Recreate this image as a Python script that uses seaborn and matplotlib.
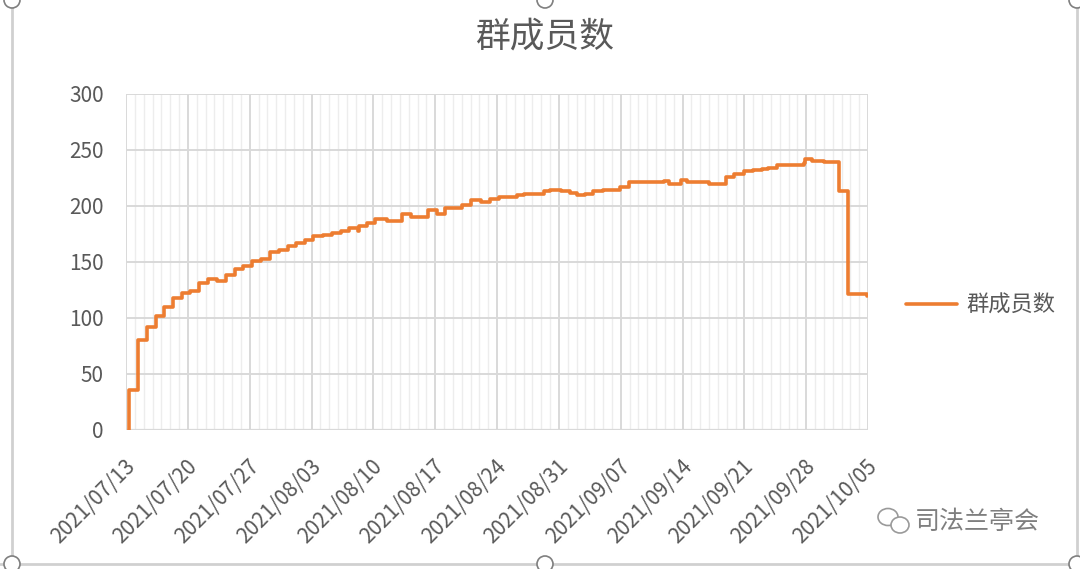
import pandas as pd
import matplotlib.pyplot as plt
import matplotlib.dates as mdates
import matplotlib.transforms as mtransforms
from matplotlib.patches import Ellipse
from matplotlib.lines import Line2D
import seaborn as sns

# ── data (time of change, member count) ──
times = [
    "2021-07-13 08:00", "2021-07-13 09:00", "2021-07-14 09:00", "2021-07-15 08:00",
    "2021-07-16 09:00", "2021-07-17 08:00", "2021-07-18 09:00", "2021-07-19 07:00",
    "2021-07-20 07:00", "2021-07-21 07:00", "2021-07-22 07:00", "2021-07-23 07:00",
    "2021-07-24 07:00", "2021-07-25 07:00", "2021-07-26 07:00", "2021-07-27 07:00",
    "2021-07-28 07:00", "2021-07-29 07:00", "2021-07-30 07:00", "2021-07-31 07:00",
    "2021-08-01 07:00", "2021-08-02 07:00", "2021-08-03 05:00", "2021-08-04 07:00",
    "2021-08-05 07:00", "2021-08-06 07:00", "2021-08-07 07:00", "2021-08-08 05:00",
    "2021-08-08 10:00", "2021-08-09 07:00", "2021-08-10 05:00", "2021-08-11 12:00",
    "2021-08-13 05:00", "2021-08-14 05:00", "2021-08-16 05:00", "2021-08-17 05:00",
    "2021-08-18 02:00", "2021-08-20 00:00", "2021-08-21 00:00", "2021-08-22 05:00",
    "2021-08-23 05:00", "2021-08-24 05:00", "2021-08-26 05:00", "2021-08-27 00:00",
    "2021-08-29 07:00", "2021-08-30 00:00", "2021-08-31 05:00", "2021-09-01 05:00",
    "2021-09-02 00:00", "2021-09-03 00:00", "2021-09-03 22:00", "2021-09-05 00:00",
    "2021-09-06 22:00", "2021-09-07 22:00", "2021-09-11 22:00", "2021-09-12 12:00",
    "2021-09-13 19:00", "2021-09-14 12:00", "2021-09-17 00:00", "2021-09-18 22:00",
    "2021-09-19 19:00", "2021-09-20 22:00", "2021-09-22 00:00", "2021-09-23 00:00",
    "2021-09-23 17:00", "2021-09-24 17:00", "2021-09-27 17:00", "2021-09-27 22:00",
    "2021-09-28 17:00", "2021-09-30 00:00", "2021-10-01 17:00", "2021-10-02 17:00",
    "2021-10-04 22:00",
]
members = [
    0, 36, 80, 92,
    102, 110, 118, 122,
    124, 131, 135, 133,
    138, 144, 146, 151,
    153, 159, 161, 164,
    167, 170, 173, 174,
    176, 178, 180, 178,
    182, 185, 188, 187,
    193, 190, 196, 193,
    198, 201, 205, 204,
    206, 208, 210, 211,
    213, 214, 213, 212,
    210, 211, 213, 214,
    217, 221, 222, 220,
    223, 221, 220, 226,
    229, 231, 232, 233,
    234, 237, 238, 242,
    240, 239, 213, 121,
    120,
]
tick_dates = pd.date_range("2021-07-13", "2021-10-05", freq="7D")
series_name = "群成员数"
title = "群成员数"
watermark = "司法兰亭会"

df = pd.DataFrame({"time": pd.to_datetime(times), "members": members})

sns.set_theme(style="white")
plt.rcParams["font.family"] = ["Noto Sans CJK SC", "DejaVu Sans"]

grey_txt = "#595959"
orange = "#ED7D31"

fig = plt.figure(figsize=(10.8, 5.69), dpi=100)
ax = fig.add_axes([126 / 1080, 1 - 430 / 569, (868 - 126) / 1080, (430 - 94) / 569])

sns.lineplot(data=df, x="time", y="members", ax=ax, color=orange, linewidth=2.6,
             drawstyle="steps-post", label=series_name, legend=False)

ax.set_xlim(pd.Timestamp("2021-07-13"), pd.Timestamp("2021-10-05"))
ax.set_ylim(0, 300)
ax.set_yticks(range(0, 301, 50))

ax.set_xticks(mdates.date2num(tick_dates))
ax.set_xticklabels([d.strftime("%Y/%m/%d") for d in tick_dates])
ax.xaxis.set_minor_locator(mdates.DayLocator())

ax.grid(True, which="major", axis="both", color="#d9d9d9", linewidth=1.4)
ax.grid(True, which="minor", axis="x", color="#ededed", linewidth=1.0)
ax.set_axisbelow(True)
for s in ax.spines.values():
    s.set_visible(False)
ax.axhline(0, color="#d9d9d9", linewidth=1.6, zorder=1)

ax.set_xlabel("")
ax.set_ylabel("")
ax.tick_params(axis="y", length=0, pad=16, labelsize=15, labelcolor=grey_txt)
ax.tick_params(axis="x", which="both", length=0, pad=24, labelsize=15, labelcolor=grey_txt)
shift = mtransforms.ScaledTranslation(6 / 100, 0, fig.dpi_scale_trans)
for lab in ax.get_xticklabels():
    lab.set_rotation(45)
    lab.set_ha("right")
    lab.set_va("center")
    lab.set_rotation_mode("anchor")
    lab.set_transform(lab.get_transform() + shift)

# title
fig.text(545 / 1080, 1 - 37 / 569, title, ha="center", va="center",
         fontsize=25, color=grey_txt)

# legend
handle = Line2D([], [], color=orange, linewidth=2.6)
fig.legend([handle], [series_name], loc="center left",
           bbox_to_anchor=(906 / 1080, 1 - 305 / 569), frameon=False,
           fontsize=16, labelcolor=grey_txt, handlelength=2.3,
           handletextpad=0.4, borderpad=0, borderaxespad=0)

# chart frame and selection handles
frame_col = "#d0d0d0"
fig.add_artist(Line2D([12 / 1080, 12 / 1080], [0, 1], transform=fig.transFigure,
                      color=frame_col, linewidth=2))
fig.add_artist(Line2D([1077 / 1080, 1077 / 1080], [0, 1], transform=fig.transFigure,
                      color=frame_col, linewidth=2))
fig.add_artist(Line2D([0, 1], [1 - 564 / 569, 1 - 564 / 569], transform=fig.transFigure,
                      color=frame_col, linewidth=2))
for hx, hy in [(12, 0), (545, 0), (1077, 0), (12, 564), (545, 564), (1077, 564)]:
    fig.add_artist(Ellipse((hx / 1080, 1 - hy / 569), 16 / 1080, 16 / 569,
                           transform=fig.transFigure, facecolor="white",
                           edgecolor="#7f7f7f", linewidth=1.2, zorder=10))

# watermark
fig.add_artist(Ellipse((888 / 1080, 1 - 517 / 569), 20 / 1080, 17 / 569,
                       transform=fig.transFigure, facecolor="none",
                       edgecolor="#9a9a9a", linewidth=1.2))
fig.add_artist(Ellipse((900 / 1080, 1 - 525 / 569), 18 / 1080, 16 / 569,
                       transform=fig.transFigure, facecolor="white",
                       edgecolor="#9a9a9a", linewidth=1.2))
fig.text(915 / 1080, 1 - 522 / 569, watermark, ha="left", va="center",
         fontsize=18, color="#7f7f7f")

fig.savefig("out.png", dpi=100)
